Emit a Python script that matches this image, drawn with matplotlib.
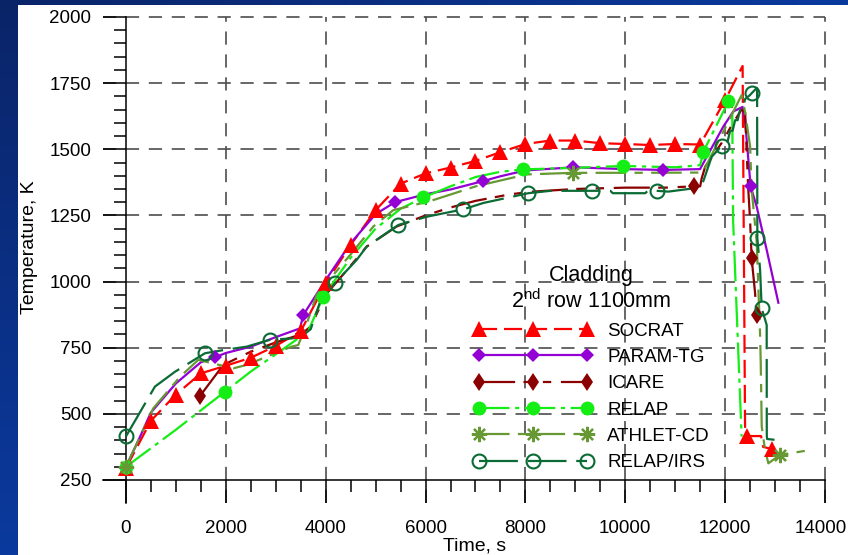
import numpy as np
import matplotlib.pyplot as plt
import matplotlib.transforms as mtransforms
from matplotlib.lines import Line2D
from matplotlib.colors import LinearSegmentedColormap

plt.rcParams['font.family'] = ['Liberation Sans', 'DejaVu Sans']
plt.rcParams['mathtext.fontset'] = 'custom'
plt.rcParams['mathtext.rm'] = 'Liberation Sans'
plt.rcParams['lines.scale_dashes'] = False

# ---- data (time in s, temperature in K) ----
socrat_t = [0, 500, 1000, 1500, 2000, 2500, 3000, 3500, 4000, 4500, 5000, 5500, 6000,
            6500, 7000, 7500, 8000, 8500, 9000, 9500, 10000, 10500, 11000, 11500,
            12000, 12350, 12400, 12440, 12720, 12760, 12940, 13000]
socrat_T = [295, 474, 573, 653, 682, 712, 757, 812, 994, 1138, 1270, 1370, 1409,
            1431, 1456, 1489, 1520, 1533, 1533, 1523, 1520, 1516, 1520, 1518,
            1686, 1815, 430, 416, 416, 375, 367, 365]

param_t = [0, 250, 500, 1000, 1500, 1783, 2000, 2500, 3000, 3485, 3552, 4000, 4500,
           5000, 5388, 6000, 6500, 7157, 7500, 8000, 8960, 10000, 10762, 11497,
           11964, 12164, 12350, 12398, 12510, 12632, 12832, 13066]
param_T = [300, 400, 505, 615, 695, 714, 730, 754, 790, 823, 874, 1006, 1145,
           1255, 1300, 1330, 1348, 1380, 1398, 1420, 1432, 1425, 1422, 1425,
           1586, 1643, 1660, 1611, 1360, 1283, 1120, 920]

icare_t = [1480, 1950, 2500, 3000, 3500, 3700, 4000, 4500, 4820, 5420, 6000, 6500,
           7000, 7700, 8150, 9000, 10000, 10800, 11380, 11500, 11530, 11600, 11930,
           12160, 12330, 12400, 12460, 12500, 12531, 12598, 12632]
icare_T = [567, 685, 735, 770, 800, 830, 950, 1060, 1132, 1208, 1250, 1280,
           1305, 1330, 1340, 1350, 1355, 1355, 1360, 1360, 1390, 1434, 1524,
           1600, 1650, 1640, 1360, 1230, 1088, 960, 874]

relap_t = [0, 1000, 1983, 2500, 3000, 3485, 3619, 3952, 4500, 5000, 5500, 5955, 6500,
           7000, 7500, 7950, 9000, 9950, 11000, 11500, 11563, 11800, 12064, 12140,
           12160, 12330]
relap_T = [300, 440, 584, 660, 725, 790, 800, 943, 1090, 1200, 1275, 1318, 1360,
           1395, 1415, 1424, 1430, 1437, 1432, 1440, 1491, 1580, 1681, 1690,
           1230, 414]

athlet_t = [0, 548, 1082, 1449, 2150, 2417, 3000, 3318, 3450, 3600, 3819, 4487, 4954,
            5354, 6089, 7024, 8025, 8960, 10162, 11530, 11600, 12331, 12400, 12500,
            12530, 12632, 12699, 12713, 12733, 12800, 12866, 13100, 13600]
athlet_T = [300, 521, 640, 704, 672, 685, 730, 754, 760, 830, 950, 1100, 1208,
            1270, 1304, 1361, 1405, 1411, 1411, 1412, 1430, 1705, 1640, 1511,
            1350, 1150, 805, 692, 452, 363, 313, 345, 360]

irs_t = [0, 580, 981, 1582, 1950, 2417, 2884, 3318, 3500, 3700, 3900, 4020, 4186,
         4621, 4820, 5455, 6022, 6756, 7157, 8059, 8500, 9327, 9700, 9750, 10400,
         10450, 10629, 10863, 11430, 11564, 11731, 11931, 12000, 12050, 12100, 12150,
         12200, 12250, 12300, 12350, 12400, 12498, 12531, 12630, 12640, 12645, 12680,
         12700, 12732, 12832, 12834, 12840, 13032]
irs_T = [415, 603, 659, 729, 741, 754, 780, 785, 790, 820, 930, 956, 994,
         1082, 1132, 1214, 1245, 1273, 1297, 1334, 1343, 1343, 1343, 1334, 1334,
         1343, 1343, 1340, 1354, 1380, 1472, 1512, 1530, 1530, 1570, 1570,
         1610, 1610, 1650, 1650, 1690, 1705, 1712, 1731, 1731, 1163, 1090,
         1044, 899, 836, 420, 405, 401]

labels = ['SOCRAT', 'PARAM-TG', 'ICARE', 'RELAP', 'ATHLET-CD', 'RELAP/IRS']

# ---- figure with the blue slide frame ----
fig = plt.figure(figsize=(8.48, 5.55), dpi=100)
fig.patch.set_facecolor('white')
blue = LinearSegmentedColormap.from_list('slide', ['#0a2468', '#0a3a9e'])
strip = fig.add_axes([0, 0, 18 / 848, 1])
strip.imshow(np.linspace(0, 1, 200).reshape(-1, 1), cmap=blue, aspect='auto')
strip.axis('off')
top = fig.add_axes([0, 1 - 5 / 555, 1, 5 / 555])
top.imshow(np.linspace(0, 1, 200).reshape(1, -1), cmap=blue, aspect='auto')
top.axis('off')

ax = fig.add_axes([103 / 848, 1 - 503 / 555, 722 / 848, 486 / 555])
ax.set_xlim(-460, 14000)
ax.set_ylim(163, 2000)
ax.patch.set_alpha(0)

for s in ['top', 'right']:
    ax.spines[s].set_visible(False)
ax.spines['left'].set_position(('data', 0))
ax.spines['bottom'].set_position(('data', 250))
ax.spines['left'].set_linewidth(1.1)
ax.spines['bottom'].set_linewidth(1.1)

ax.set_xticks(np.arange(0, 14001, 2000))
ax.set_xticks(np.arange(0, 14001, 500), minor=True)
ax.set_yticks(np.arange(250, 2001, 250))
ax.set_yticks(np.arange(250, 2001, 50), minor=True)
ax.tick_params(which='major', direction='out', length=16.5, width=1.1,
               labelsize=13.5, color='black')
ax.tick_params(which='minor', direction='out', length=8.6, width=1.1, color='black')
ax.tick_params(axis='y', which='major', pad=8.5)
ax.tick_params(axis='x', which='major', pad=12)

# the last x label sits right at the picture edge, nudge it inwards
fig.canvas.draw()
shift = mtransforms.ScaledTranslation(-4 / 100, 0, fig.dpi_scale_trans)
last = ax.get_xticklabels()[-1]
last.set_transform(last.get_transform() + shift)

# dashed grid
for gx in np.arange(2000, 14001, 2000):
    ax.plot([gx, gx], [163, 2000], color='#4d4d4d', lw=1.2,
            ls=(0, (9.5, 7)), zorder=1, clip_on=False)
for gy in np.arange(500, 2001, 250):
    ax.plot([-460, 14000], [gy, gy], color='#4d4d4d', lw=1.2,
            ls=(0, (9.5, 7)), zorder=1, clip_on=False)

styles = [
    dict(color='#ff0000', ls=(0, (13, 5)), marker='^', ms=11, mfc='#ff0000', mew=0),
    dict(color='#9400d3', ls='-', marker='D', ms=7.5, mfc='#9400d3', mew=0),
    dict(color='#8b0000', ls=(0, (26, 6, 7, 7, 6, 7)), marker='d', ms=9.5, mfc='#8b0000', mew=0),
    dict(color='#14ee14', ls=(0, (22, 4, 3, 4)), marker='o', ms=10, mfc='#14ee14', mew=0),
    dict(color='#669933', ls=(0, (22, 6, 6, 6)), marker=(8, 2, 0), ms=11, mfc='#669933', mew=1.6),
    dict(color='#0b6b35', ls=(0, (28, 7)), marker='o', ms=10, mfc='none', mew=1.5),
]
series = [(socrat_t, socrat_T, list(range(0, 25)) + [27, 30]),
          (param_t, param_T, [0, 5, 10, 14, 17, 20, 22, 28]),
          (icare_t, icare_T, [0, 18, 28, 30]),
          (relap_t, relap_T, [0, 2, 7, 11, 15, 17, 20, 22]),
          (athlet_t, athlet_T, [0, 17, 31]),
          (irs_t, irs_T, [0, 3, 6, 12, 15, 17, 19, 21, 26, 31, 42, 45, 48])]

handles = []
for (t, T, marks), st in zip(series, styles):
    ax.plot(t, T, color=st['color'], ls=st['ls'], lw=1.6, zorder=3)
    t = np.array(t)
    T = np.array(T)
    ax.plot(t[marks], T[marks], ls='none', marker=st['marker'], ms=st['ms'],
            mfc=st['mfc'], mec=st['color'], mew=st['mew'], zorder=4)
    handles.append(Line2D([], [], color=st['color'], ls=st['ls'], lw=1.6,
                          marker=st['marker'], ms=st['ms'], mfc=st['mfc'],
                          mec=st['color'], mew=st['mew']))

leg = ax.legend(handles, labels, title='Cladding\n2$^{\\mathrm{nd}}$ row 1100mm',
                loc='upper left', bbox_to_anchor=(473 / 848, 1 - 265 / 555),
                bbox_transform=fig.transFigure, frameon=False, fontsize=13.5,
                title_fontsize=15.5, numpoints=3, handlelength=6.4,
                handletextpad=0.77, labelspacing=0.49, borderpad=0, borderaxespad=0)
leg.get_title().set_multialignment('center')

fig.text(30 / 848, 1 - 247 / 555, 'Temperature, K', rotation=90, fontsize=14,
         ha='center', va='center')
fig.text(475 / 848, 1 - 546 / 555, 'Time, s', fontsize=14, ha='center', va='center')

fig.savefig('out.png', dpi=100)
